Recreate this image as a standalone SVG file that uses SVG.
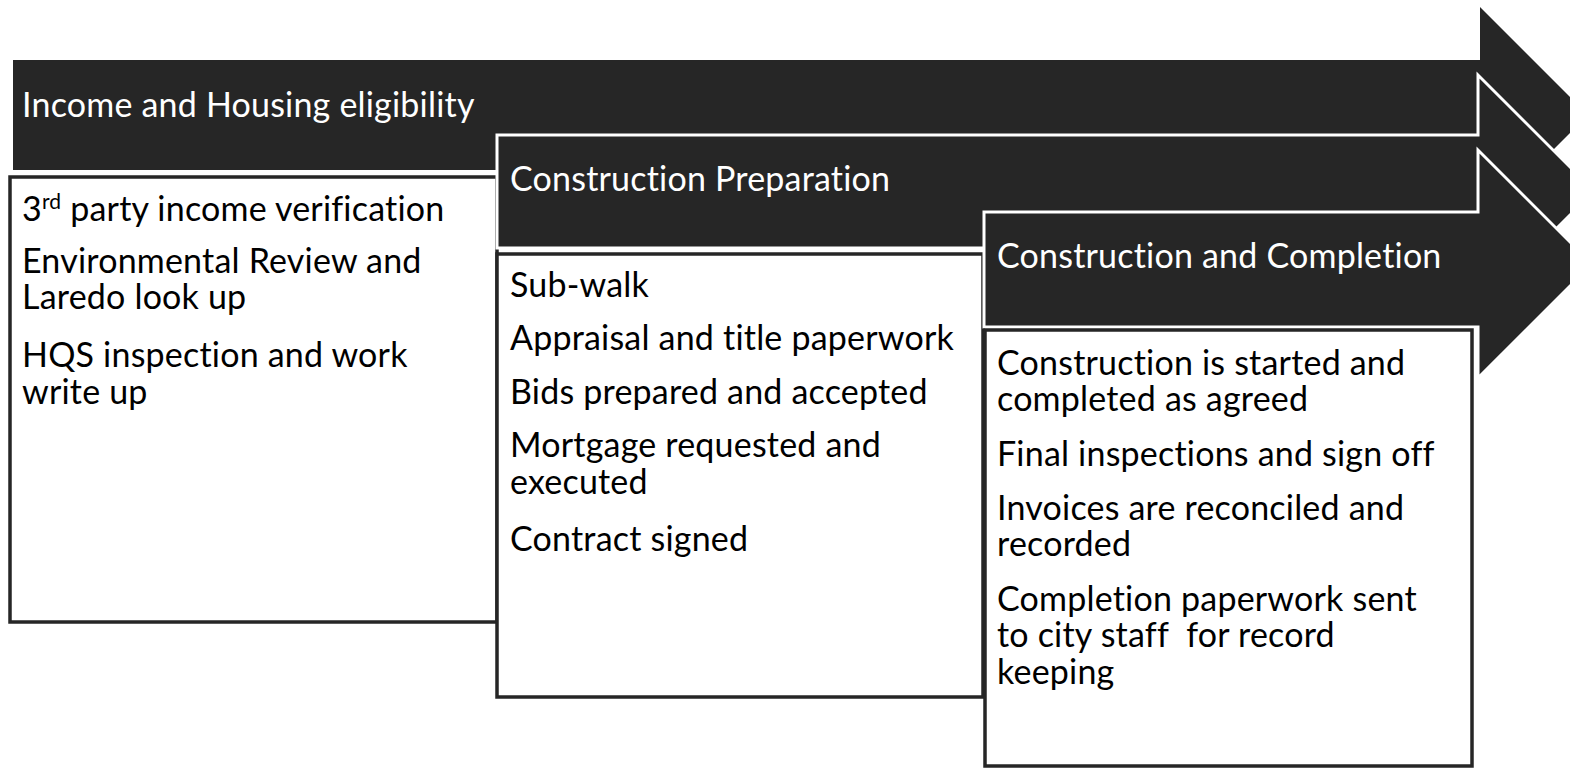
<svg xmlns="http://www.w3.org/2000/svg" width="1570" height="768" viewBox="0 0 1570 768">
<style>
.arrow{fill:#262626;stroke:#ffffff;stroke-width:3}
.first{stroke:none}
.box{fill:#ffffff;stroke:#262626;stroke-width:3.5}
.t{font-family:Lato,"Open Sans","Liberation Sans",sans-serif;font-size:34px;letter-spacing:0.2px}
.hd{fill:#ffffff}
.bd{fill:#000000}
</style>
<rect width="1570" height="768" fill="#ffffff"/>
<g id="stage1">
<path class="arrow first" d="M13,60 H1480 V7 L1588,115 L1480,223 V170 H13 Z"/>
<text class="t hd" x="22" y="117">Income and Housing eligibility</text>
</g>
<g id="box1">
<rect class="box" x="10" y="177" width="487" height="445"/>
<text class="t bd" x="22" y="221">3<tspan font-size="21" dy="-12">rd</tspan><tspan dy="12"> party income verification</tspan></text>
<text class="t bd" x="22" y="273">Environmental Review and<tspan x="22" dy="36">Laredo look up</tspan></text>
<text class="t bd" x="22" y="367">HQS inspection and work<tspan x="22" dy="37">write up</tspan></text>
</g>
<g id="stage2">
<path class="arrow" d="M497,135 H1478 V75 L1594,191 L1478,307 V248 H497 Z"/>
<text class="t hd" x="510" y="191">Construction Preparation</text>
</g>
<g id="box2">
<rect class="box" x="497" y="254" width="486" height="443"/>
<text class="t bd" x="510" y="297">Sub-walk</text>
<text class="t bd" x="510" y="350">Appraisal and title paperwork</text>
<text class="t bd" x="510" y="404">Bids prepared and accepted</text>
<text class="t bd" x="510" y="457">Mortgage requested and<tspan x="510" dy="37">executed</tspan></text>
<text class="t bd" x="510" y="551">Contract signed</text>
</g>
<g id="stage3">
<path class="arrow" d="M984,212 H1478 V150 L1592,264 L1478,378 V327 H984 Z"/>
<text class="t hd" x="997" y="268">Construction and Completion</text>
</g>
<g id="box3">
<rect class="box" x="985" y="330" width="487" height="436"/>
<text class="t bd" x="997" y="375">Construction is started and<tspan x="997" dy="36">completed as agreed</tspan></text>
<text class="t bd" x="997" y="466">Final inspections and sign off</text>
<text class="t bd" x="997" y="520">Invoices are reconciled and<tspan x="997" dy="36">recorded</tspan></text>
<text class="t bd" x="997" y="611" xml:space="preserve">Completion paperwork sent<tspan x="997" dy="36">to city staff  for record</tspan><tspan x="997" dy="37">keeping</tspan></text>
</g>
<g id="connectors"/>
</svg>
